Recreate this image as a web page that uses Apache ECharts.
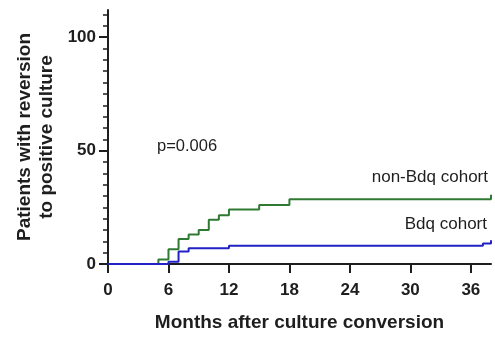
<!DOCTYPE html>
<html>
<head>
<meta charset="utf-8">
<script src="https://cdn.jsdelivr.net/npm/echarts@6/dist/echarts.min.js"></script>
<style>
  html, body { margin: 0; padding: 0; background: #fff; }
  #main { width: 495px; height: 337px; }
</style>
</head>
<body>
<div id="main"></div>
<script>
// months after culture conversion -> % with reversion (step curves)
var nonBdq = [[0, 0], [5, 2], [6, 6.5], [7, 11], [8, 13], [9, 15], [10, 19.5], [11, 21.5],
    [12, 24], [15, 26], [18, 28.5], [38, 28.5], [38, 30.5]];
var bdq = [[0, 0], [6, 1], [7, 5.5], [8, 7], [12, 8], [37.2, 8], [37.2, 9], [38, 10.5]];
var xTicks = [0, 6, 12, 18, 24, 30, 36];
var yLabels = [0, 50, 100];
var yMinor = [];
for (var v = 0; v <= 110; v += 5) yMinor.push(v);

var font = 'Liberation Sans, Arial, sans-serif';
var ink = '#1e1e1e';

var option = {
    animation: false,
    grid: { left: 108, right: 4, top: 10, bottom: 71 },
    xAxis: {
        type: 'value',
        min: 0,
        max: 38,
        name: 'Months after culture conversion',
        nameLocation: 'middle',
        nameGap: 49,
        nameTextStyle: { fontFamily: font, fontWeight: 'bold', fontSize: 19, color: ink },
        splitLine: { show: false },
        axisLine: { lineStyle: { color: ink, width: 2 } },
        axisTick: { customValues: xTicks, length: 9, lineStyle: { color: ink, width: 2 } },
        axisLabel: { customValues: xTicks, fontFamily: font, fontWeight: 'bold', fontSize: 17, color: ink, margin: 18 }
    },
    yAxis: [
        {
            type: 'value',
            min: 0,
            max: 112,
            position: 'left',
            name: 'Patients with reversion\nto positive culture',
            nameLocation: 'middle',
            nameGap: 50,
            nameTextStyle: { fontFamily: font, fontWeight: 'bold', fontSize: 19, color: ink, lineHeight: 22 },
            splitLine: { show: false },
            axisLine: { show: true, lineStyle: { color: ink, width: 2 } },
            axisTick: { customValues: yMinor, length: 5, lineStyle: { color: ink, width: 1.5 } },
            axisLabel: { show: false }
        },
        {
            type: 'value',
            min: 0,
            max: 112,
            position: 'left',
            splitLine: { show: false },
            axisLine: { show: false },
            axisTick: { customValues: yLabels, length: 9, lineStyle: { color: ink, width: 2 } },
            axisLabel: { customValues: yLabels, fontFamily: font, fontWeight: 'bold', fontSize: 17, color: ink, margin: 12 }
        }
    ],
    series: [
        {
            name: 'non-Bdq cohort',
            type: 'line',
            step: 'end',
            symbol: 'none',
            lineStyle: { color: '#2f7a33', width: 2 },
            data: nonBdq
        },
        {
            name: 'Bdq cohort',
            type: 'line',
            step: 'end',
            symbol: 'none',
            lineStyle: { color: '#2222c4', width: 2 },
            data: bdq
        }
    ],
    graphic: [
        { type: 'text', left: 157, top: 138, style: { text: 'p=0.006', font: '16.5px ' + font, fill: ink } },
        { type: 'text', right: 7, top: 169, style: { text: 'non-Bdq cohort', font: '17px ' + font, fill: ink } },
        { type: 'text', right: 8, top: 216, style: { text: 'Bdq cohort', font: '17px ' + font, fill: ink } }
    ]
};

var myChart = echarts.init(document.getElementById('main'));
myChart.setOption(option);
</script>
</body>
</html>
